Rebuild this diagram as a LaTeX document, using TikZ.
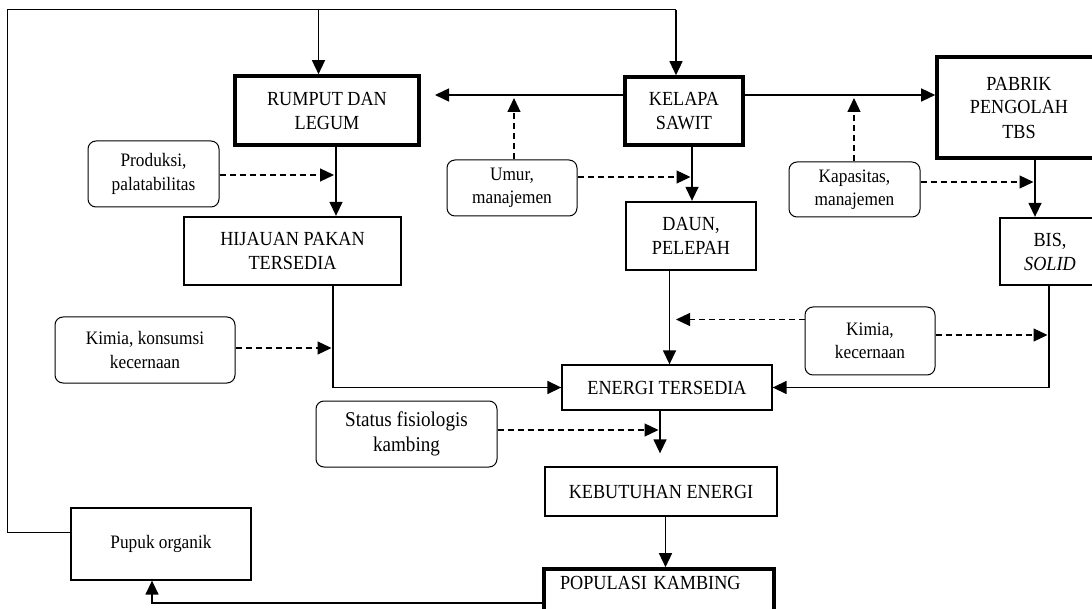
\documentclass[tikz,border=0pt]{standalone}
\usepackage{fontspec}
\setmainfont{Liberation Serif}[FakeStretch=0.91]
\usetikzlibrary{arrows.meta,calc}
\begin{document}
\begin{tikzpicture}[x=1pt,y=-1pt,
  font=\fontsize{20}{24}\selectfont,
  every node/.style={align=center,inner sep=2pt},
  thickbox/.style={draw,line width=3.6pt},
  medbox/.style={draw,line width=2.3pt},
  thinbox/.style={draw,line width=1.3pt},
  rbox/.style={draw,rounded corners=8pt,line width=1pt,font=\fontsize{19}{23.5}\selectfont},
  arr/.style={line width=1.4pt,-{Triangle[length=14pt,width=13pt]}},
  darr/.style={line width=1.2pt,dash pattern=on 6pt off 4pt,-{Triangle[length=14pt,width=13pt]}},
  ln/.style={line width=1pt}]
\useasboundingbox (0,0) rectangle (1092,609);
% main boxes
\node[thickbox,minimum width=184,minimum height=69] (rumput) at (327,110.5) {RUMPUT DAN\\LEGUM};
\node[thickbox,minimum width=118,minimum height=68] (kelapa) at (684,111) {KELAPA\\SAWIT};
\node[thickbox,minimum width=164,minimum height=101] (pabrik) at (1019,107.5) {PABRIK\\PENGOLAH\\TBS};
\node[medbox,minimum width=100,minimum height=67] (bis) at (1050,251.5) {BIS,\\\textit{SOLID}};
\node[medbox,minimum width=217,minimum height=68] (hijauan) at (292.5,251) {HIJAUAN PAKAN\\TERSEDIA};
\node[medbox,minimum width=130,minimum height=68] (daun) at (691,236) {DAUN,\\PELEPAH};
\node[thinbox,minimum width=210,minimum height=45] (energi) at (667,387.5) {ENERGI TERSEDIA};
\node[thinbox,minimum width=232,minimum height=49] (kebutuhan) at (661,491.5) {KEBUTUHAN ENERGI};
\node[thickbox,minimum width=230,minimum height=46,inner xsep=16pt,text width=198pt,align=left,text height=13pt,text depth=18pt] (populasi) at (659,592) {POPULASI KAMBING};
\node[thinbox,minimum width=180,minimum height=72,font=\fontsize{19}{23.5}\selectfont] (pupuk) at (161,544) {Pupuk organik};
% factor boxes
\node[rbox,minimum width=131,minimum height=66] (produksi) at (153.5,174) {Produksi,\\palatabilitas};
\node[rbox,minimum width=130,minimum height=56] (umur) at (512,188) {Umur,\\manajemen};
\node[rbox,minimum width=131,minimum height=55] (kapasitas) at (854.5,189.5) {Kapasitas,\\manajemen};
\node[rbox,minimum width=180,minimum height=66] (kimiak) at (145,350) {Kimia, konsumsi\\kecernaan};
\node[rbox,minimum width=130,minimum height=68] (kimiac) at (870,341) {Kimia,\\kecernaan};
\node[rbox,minimum width=181,minimum height=66,font=\fontsize{21}{25}\selectfont] (status) at (406.5,434) {Status fisiologis\\kambing};
% coordinates
\coordinate (lpB) at (7,532);
\coordinate (lpT) at (7,10);
\coordinate (topR) at (318.5,10);
\coordinate (topK) at (676,10);
\coordinate (hy) at (0,95);
\coordinate (kr) at (435,95);
\coordinate (uTip) at (514,98);
\coordinate (kTip) at (854,98);
\coordinate (rx) at (336,0);
\coordinate (kx) at (692,0);
\coordinate (px) at (1035,0);
\coordinate (hx) at (333,0);
\coordinate (dx) at (669.5,0);
\coordinate (bx) at (1049,0);
\coordinate (ex) at (660,0);
\coordinate (kbx) at (665.5,0);
\coordinate (py) at (0,603);
\coordinate (pux) at (152,0);
% outer loop
\draw[ln] ([yshift=12pt]pupuk.west) -- (lpB) -- (lpT) -- (topK);
\draw[arr] (topR) -- (rumput.north -| topR);
\draw[arr] (topK) -- (kelapa.north -| topK);
% kelapa outputs
\draw[arr] (kelapa.west |- hy) -- (kr);
\draw[arr] (kelapa.east |- hy) -- (pabrik.west |- hy);
\draw[darr] (umur.north -| uTip) -- (uTip);
\draw[darr] (kapasitas.north -| kTip) -- (kTip);
% vertical flows
\draw[arr] (rumput.south -| rx) -- (hijauan.north -| rx);
\draw[arr] (kelapa.south -| kx) -- (daun.north -| kx);
\draw[arr] (pabrik.south -| px) -- (bis.north -| px);
\draw[darr] (produksi.east |- 0,175) -- (334,175);
\draw[darr] (umur.east |- 0,177) -- (690.5,177);
\draw[darr] (kapasitas.east |- 0,182) -- (1033.5,182);
% into energi
\draw[arr] (hijauan.south -| hx) |- (energi.west);
\draw[arr] (daun.south -| dx) -- (energi.north -| dx);
\draw[arr] (bis.south -| bx) |- (energi.east);
\draw[darr] (kimiak.east |- 0,348) -- (331.5,348);
\draw[darr] (kimiac.west |- 0,319.5) -- (676,319.5);
\draw[darr] (kimiac.east |- 0,335) -- (1047.5,335);
% lower chain
\draw[darr] (status.east |- 0,430) -- (658.5,430);
\draw[arr,shorten >=13pt] (energi.south -| ex) -- (kebutuhan.north -| ex);
\draw[arr] (kebutuhan.south -| kbx) -- (populasi.north -| kbx);
\draw[arr] (populasi.west |- py) -| (pupuk.south -| pux);
\end{tikzpicture}
\end{document}
